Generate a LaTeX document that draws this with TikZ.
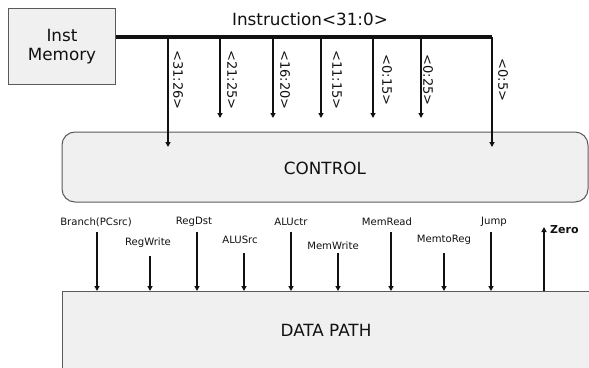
\documentclass[tikz,border=0pt]{standalone}
\usepackage{fontspec}
\setmainfont{DejaVu Sans}
\usetikzlibrary{arrows.meta}
\definecolor{boxfill}{HTML}{F0F0F0}
\definecolor{boxline}{HTML}{5A5A5A}
\definecolor{ink}{HTML}{111111}
\tikzset{
  unit/.style={draw=boxline, line width=1pt, fill=boxfill, text=ink},
  bigtxt/.style={font=\fontsize{16.8}{19}\selectfont, text=ink},
  bitlbl/.style={font=\fontsize{13}{14}\selectfont, text=ink, rotate=-90, inner sep=0pt},
  siglbl/.style={font=\fontsize{10.1}{11}\selectfont, text=ink, inner sep=0pt},
  sigarrow/.style={draw=ink, line width=1.4pt, -{Triangle[width=5pt,length=5pt]}},
  bus/.style={draw=ink, line width=3.2pt}
}
\begin{document}
\begin{tikzpicture}[x=1pt,y=-1pt]
\clip (0,0) rectangle (589,367);
\fill[white] (0,0) rectangle (589,367);
% boxes
\node[unit, minimum width=107pt, minimum height=76pt, anchor=north west, inner sep=0pt] (imem) at (8,8) {};
\node[bigtxt, align=center] at (imem.center) {Inst\\Memory};
\draw[unit, rounded corners=13pt] (62,132) rectangle (588,202);
\node[bigtxt] (ctrl) at (325,168) {CONTROL};
\draw[unit] (62,291) rectangle (620,400);
\node[bigtxt] (dp) at (326,330) {DATA PATH};
% bus
\coordinate (busend) at (492,37);
\draw[bus] (imem.east |- busend) -- (busend);
\node[bigtxt] (instr) at (310,19) {Instruction<31:0>};
% bus taps
\foreach \x/\yy/\lx/\t [count=\i] in {168/147/178/<31:26>, 220/118/232/<21:25>, 273/118/285/<16:20>, 321/118/337/<11:15>, 373/118/387/<0:15>, 421/118/428/<0:25>, 492/147/503/<0:5>}{
  \coordinate (tap\i) at (\x,37);
  \coordinate (tapend\i) at (\x,\yy);
  \draw[sigarrow] (tap\i) -- (tapend\i);
  \node[bitlbl] (bits\i) at (\lx,80) {\t};
}
% control signals
\foreach \x/\top/\lx/\ly/\t [count=\i] in {97/232/96/222/Branch(PCsrc), 150/256/148/243/RegWrite, 197/232/194/222/RegDst, 244/253/240/240/ALUSrc, 291/232/291/222/ALUctr, 338/253/333/246/MemWrite, 391/232/387/222/MemRead, 444/253/444/240/MemtoReg, 491/232/494/222/Jump}{
  \coordinate (sig\i) at (\x,\top);
  \coordinate (sigend\i) at (\x,291);
  \draw[sigarrow] (sig\i) -- (sigend\i);
  \node[siglbl] (sl\i) at (\lx,\ly) {\t};
}
\coordinate (zfrom) at (544,291);
\coordinate (zto) at (544,227);
\draw[sigarrow] (zfrom) -- (zto);
\node[siglbl, font=\fontsize{11}{12}\selectfont\bfseries, anchor=west] (zero) at (550,230) {Zero};
\end{tikzpicture}
\end{document}
